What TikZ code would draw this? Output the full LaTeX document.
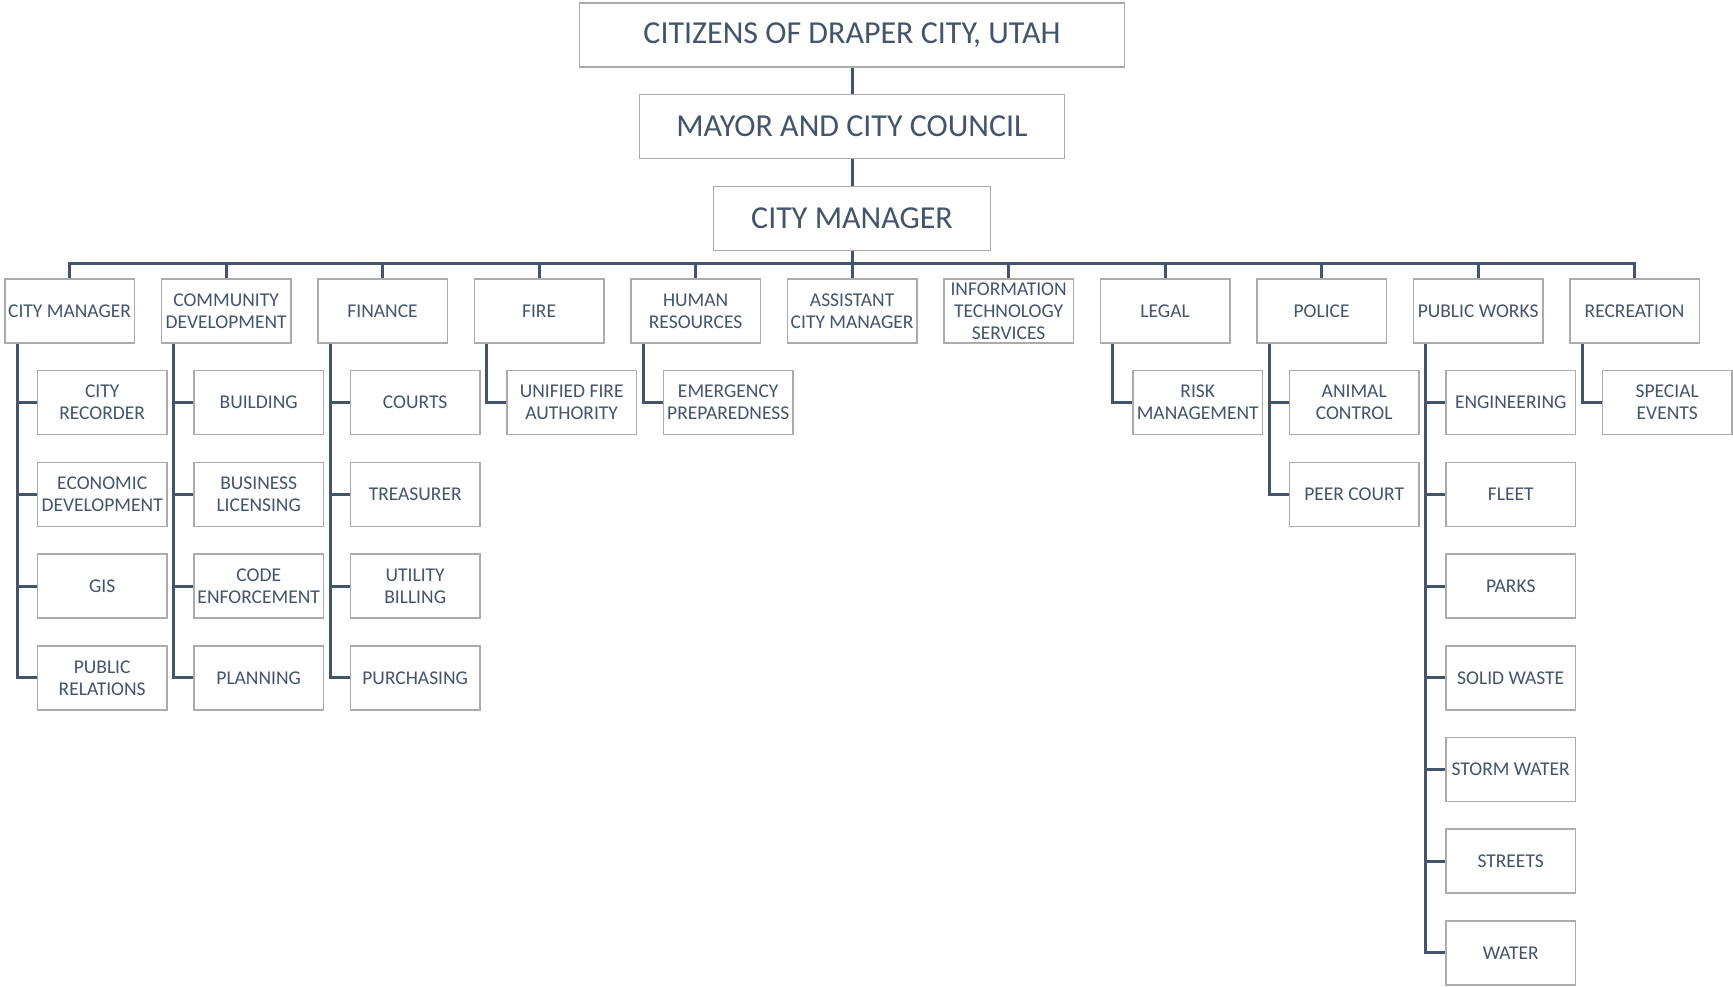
\documentclass[tikz,border=0pt]{standalone}
\usepackage{fontspec}
\setmainfont{Carlito}
\usepackage{tikz}
\usetikzlibrary{positioning}
\definecolor{slate}{HTML}{44546A}
\definecolor{boxgray}{HTML}{ABABAB}
\tikzset{
  box/.style={draw=boxgray,line width=1.5pt,fill=white,text=slate,align=center,inner sep=0pt,minimum height=64pt},
  title/.style={box,font=\fontsize{32}{37}\selectfont},
  dept/.style={box,minimum width=129.5pt,font=\fontsize{19.5}{22}\selectfont},
  link/.style={draw=slate,line width=3pt},
}
\begin{document}
\begin{tikzpicture}[x=1pt,y=-1pt,node distance=26.2pt and 25.5pt]
\useasboundingbox (0,0) rectangle (1733,987);

\node[title,minimum width=545pt] (citizens) at (852,35) {CITIZENS OF DRAPER CITY, UTAH};
\node[title,minimum width=425pt,below=of citizens] (council) {MAYOR AND CITY COUNCIL};
\node[title,minimum width=277pt,below=of council] (manager) {CITY MANAGER};
\coordinate (bus) at (852,264);

% departments
\node[dept] (cmo) at (69.6,311) {CITY MANAGER};
\node[dept,right=of cmo] (comdev) {COMMUNITY\\DEVELOPMENT};
\node[dept,right=of comdev] (finance) {FINANCE};
\node[dept,right=of finance] (fire) {FIRE};
\node[dept,right=of fire] (hr) {HUMAN\\RESOURCES};
\node[dept,right=of hr] (acm) {ASSISTANT\\CITY MANAGER};
\node[dept,right=of acm] (its) {INFORMATION\\TECHNOLOGY\\SERVICES};
\node[dept,right=of its] (legal) {LEGAL};
\node[dept,right=of legal] (police) {POLICE};
\node[dept,right=of police] (pworks) {PUBLIC WORKS};
\node[dept,right=of pworks] (rec) {RECREATION};

% divisions
\node[dept,below=of cmo,xshift=32.6pt] (recorder) {CITY\\RECORDER};
\node[dept,below=of recorder] (econdev) {ECONOMIC\\DEVELOPMENT};
\node[dept,below=of econdev] (gis) {GIS};
\node[dept,below=of gis] (pubrel) {PUBLIC\\RELATIONS};

\node[dept,below=of comdev,xshift=32.6pt] (building) {BUILDING};
\node[dept,below=of building] (licensing) {BUSINESS\\LICENSING};
\node[dept,below=of licensing] (codeenf) {CODE\\ENFORCEMENT};
\node[dept,below=of codeenf] (planning) {PLANNING};

\node[dept,below=of finance,xshift=32.6pt] (courts) {COURTS};
\node[dept,below=of courts] (treasurer) {TREASURER};
\node[dept,below=of treasurer] (utility) {UTILITY\\BILLING};
\node[dept,below=of utility] (purchasing) {PURCHASING};

\node[dept,below=of fire,xshift=32.6pt] (ufa) {UNIFIED FIRE\\AUTHORITY};
\node[dept,below=of hr,xshift=32.6pt] (emerg) {EMERGENCY\\PREPAREDNESS};
\node[dept,below=of legal,xshift=32.6pt] (risk) {RISK\\MANAGEMENT};

\node[dept,below=of police,xshift=32.6pt] (animal) {ANIMAL\\CONTROL};
\node[dept,below=of animal] (peer) {PEER COURT};

\node[dept,below=of pworks,xshift=32.6pt] (eng) {ENGINEERING};
\node[dept,below=of eng] (fleet) {FLEET};
\node[dept,below=of fleet] (parks) {PARKS};
\node[dept,below=of parks] (solid) {SOLID WASTE};
\node[dept,below=of solid] (storm) {STORM WATER};
\node[dept,below=of storm] (streets) {STREETS};
\node[dept,below=of streets] (water) {WATER};

\node[dept,below=of rec,xshift=32.6pt] (special) {SPECIAL\\EVENTS};

% top chain and bus
\draw[link] (citizens) -- (council);
\draw[link] (council) -- (manager);
\draw[link] (manager) -- (bus);
\draw[link] (bus) -| (cmo.north);
\draw[link] (bus) -| (comdev.north);
\draw[link] (bus) -| (finance.north);
\draw[link] (bus) -| (fire.north);
\draw[link] (bus) -| (hr.north);
\draw[link] (bus) -| (acm.north);
\draw[link] (bus) -| (its.north);
\draw[link] (bus) -| (legal.north);
\draw[link] (bus) -| (police.north);
\draw[link] (bus) -| (pworks.north);
\draw[link] (bus) -| (rec.north);

% department to division
\draw[link] ([xshift=13pt]cmo.south west) |- (recorder.west);
\draw[link] ([xshift=13pt]cmo.south west) |- (econdev.west);
\draw[link] ([xshift=13pt]cmo.south west) |- (gis.west);
\draw[link] ([xshift=13pt]cmo.south west) |- (pubrel.west);
\draw[link] ([xshift=13pt]comdev.south west) |- (building.west);
\draw[link] ([xshift=13pt]comdev.south west) |- (licensing.west);
\draw[link] ([xshift=13pt]comdev.south west) |- (codeenf.west);
\draw[link] ([xshift=13pt]comdev.south west) |- (planning.west);
\draw[link] ([xshift=13pt]finance.south west) |- (courts.west);
\draw[link] ([xshift=13pt]finance.south west) |- (treasurer.west);
\draw[link] ([xshift=13pt]finance.south west) |- (utility.west);
\draw[link] ([xshift=13pt]finance.south west) |- (purchasing.west);
\draw[link] ([xshift=13pt]fire.south west) |- (ufa.west);
\draw[link] ([xshift=13pt]hr.south west) |- (emerg.west);
\draw[link] ([xshift=13pt]legal.south west) |- (risk.west);
\draw[link] ([xshift=13pt]police.south west) |- (animal.west);
\draw[link] ([xshift=13pt]police.south west) |- (peer.west);
\draw[link] ([xshift=13pt]pworks.south west) |- (eng.west);
\draw[link] ([xshift=13pt]pworks.south west) |- (fleet.west);
\draw[link] ([xshift=13pt]pworks.south west) |- (parks.west);
\draw[link] ([xshift=13pt]pworks.south west) |- (solid.west);
\draw[link] ([xshift=13pt]pworks.south west) |- (storm.west);
\draw[link] ([xshift=13pt]pworks.south west) |- (streets.west);
\draw[link] ([xshift=13pt]pworks.south west) |- (water.west);
\draw[link] ([xshift=13pt]rec.south west) |- (special.west);

\end{tikzpicture}
\end{document}
